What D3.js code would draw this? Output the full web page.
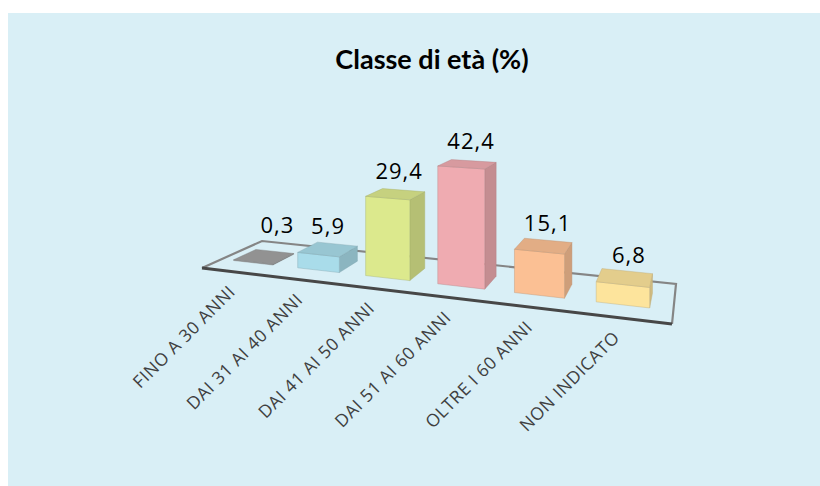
<!DOCTYPE html>
<html>
<head>
<meta charset="utf-8">
<script src="https://cdn.jsdelivr.net/npm/d3@7"></script>
<style>
  body { margin: 0; background: #fff; }
  svg { display: block; }
</style>
</head>
<body>
<svg id="chart" width="820" height="486"></svg>
<script>
var categories = ["FINO A 30 ANNI", "DAI 31 AI 40 ANNI", "DAI 41 AI 50 ANNI", "DAI 51 AI 60 ANNI", "OLTRE I 60 ANNI", "NON INDICATO"];
var values = [0.3, 5.9, 29.4, 42.4, 15.1, 6.8];
var valueLabels = ["0,3", "5,9", "29,4", "42,4", "15,1", "6,8"];
var colors = ["#a3a3a3", "#a9dcea", "#dce98d", "#efabb1", "#fbc094", "#fde49c"];

var svg = d3.select("#chart");

// panel background
svg.append("rect").attr("x", 8).attr("y", 13).attr("width", 812).attr("height", 473).attr("fill", "#d9eff6");

svg.append("text")
  .attr("x", 432).attr("y", 69)
  .attr("text-anchor", "middle")
  .style("font-family", "Lato, 'Open Sans', sans-serif")
  .style("font-weight", "bold")
  .style("font-size", "27px")
  .attr("fill", "#000")
  .text("Classe di età (%)");

// floor corners in the picture: front-left, front-right, back-right, back-left
var floor = [[202, 268], [672, 324], [676, 284], [262, 241]];

// homography unit square -> floor quad
function squareToQuad(q) {
  var x0 = q[0][0], y0 = q[0][1], x1 = q[1][0], y1 = q[1][1],
      x2 = q[2][0], y2 = q[2][1], x3 = q[3][0], y3 = q[3][1];
  var dx1 = x1 - x2, dx2 = x3 - x2, dx3 = x0 - x1 + x2 - x3;
  var dy1 = y1 - y2, dy2 = y3 - y2, dy3 = y0 - y1 + y2 - y3;
  var den = dx1 * dy2 - dx2 * dy1;
  var g = (dx3 * dy2 - dx2 * dy3) / den;
  var h = (dx1 * dy3 - dx3 * dy1) / den;
  return {
    a: x1 - x0 + g * x1, b: x3 - x0 + h * x3, c: x0,
    d: y1 - y0 + g * y1, e: y3 - y0 + h * y3, f: y0,
    g: g, h: h
  };
}
var H = squareToQuad(floor);

var x = d3.scaleBand().domain(categories).range([0, 1])
  .paddingInner(0.38).paddingOuter(0.23).align(0.42);
var z0 = 0.3, z1 = 0.68;

// height scale, in homogeneous units; calibrated so 42.4 -> ~119px at the tallest bar
var wRef = H.g * (x(categories[3]) + x.bandwidth() / 2) + H.h * z0 + 1;
var y = d3.scaleLinear().domain([0, 42.4]).range([0, 119 * wRef]);

function project(u, v, val) {
  var w = H.g * u + H.h * v + 1;
  return [(H.a * u + H.b * v + H.c) / w, (H.d * u + H.e * v + H.f - y(val)) / w];
}

var line = d3.line();

// floor outline
svg.append("path")
  .attr("d", line([floor[0], floor[3], floor[2], floor[1]]))
  .attr("fill", "none")
  .attr("stroke", "#858585")
  .attr("stroke-width", 2.2);
svg.append("path")
  .attr("d", line([floor[0], floor[1]]))
  .attr("fill", "none")
  .attr("stroke", "#474747")
  .attr("stroke-width", 3);

var bars = svg.append("g");
categories.forEach(function(cat, i) {
  var u0 = x(cat), u1 = u0 + x.bandwidth(), v = values[i];
  var c = d3.color(colors[i]);
  var faces = [
    { pts: [[u1, z0, 0], [u1, z1, 0], [u1, z1, v], [u1, z0, v]], fill: c.darker(0.55) },
    { pts: [[u0, z0, 0], [u1, z0, 0], [u1, z0, v], [u0, z0, v]], fill: c },
    { pts: [[u0, z0, v], [u1, z0, v], [u1, z1, v], [u0, z1, v]], fill: c.darker(0.3) }
  ];
  faces.forEach(function(f) {
    bars.append("path")
      .attr("d", line(f.pts.map(function(p) { return project(p[0], p[1], p[2]); })) + "Z")
      .attr("fill", f.fill)
      .attr("stroke", c.darker(0.8))
      .attr("stroke-opacity", 0.5)
      .attr("stroke-width", 0.8)
      .attr("stroke-linejoin", "round");
  });

  // value label, above the top face (the flat first bar's label sits a bit higher)
  var du = i === 0 ? 0.035 : (i === 1 ? 0 : 0.008);
  var top = project((u0 + u1) / 2 + du, (z0 + z1) / 2, v);
  svg.append("text")
    .attr("x", top[0]).attr("y", top[1] - (i === 0 ? 25 : 15))
    .attr("text-anchor", "middle")
    .style("font-family", "'Open Sans', sans-serif")
    .style("font-size", "22px")
    .style("letter-spacing", "1px")
    .attr("fill", "#000")
    .text(valueLabels[i]);

  var base = project((u0 + u1) / 2, 0, 0);
  svg.append("text")
    .attr("transform", "translate(" + (base[0] + 2) + "," + (base[1] + 21) + ") rotate(-45)")
    .attr("text-anchor", "end")
    .style("font-family", "'Open Sans', sans-serif")
    .style("font-size", "17.5px")
    .style("letter-spacing", "0.6px")
    .attr("fill", "#404040")
    .text(cat);
});
</script>
</body>
</html>
